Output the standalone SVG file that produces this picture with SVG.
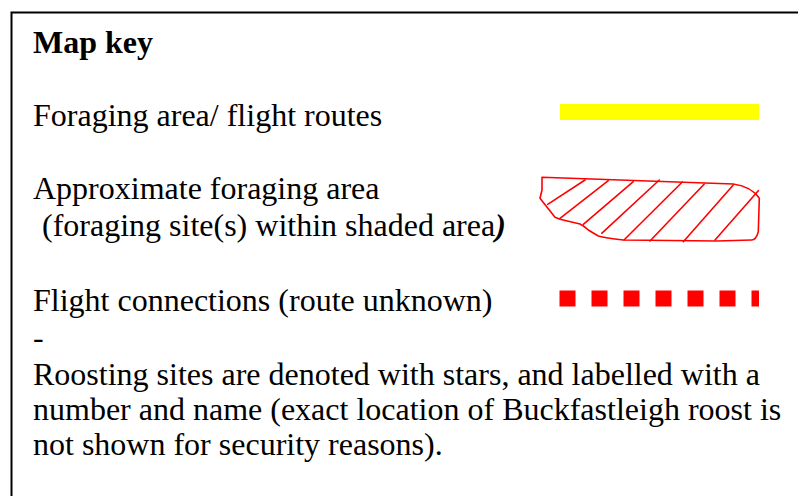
<svg xmlns="http://www.w3.org/2000/svg" width="798" height="496" viewBox="0 0 798 496">
<style>
.t{font-family:"Liberation Serif","Times New Roman",serif;font-size:32px;fill:#000}
.b{font-weight:bold}
.red{fill:none;stroke:#ff0000;stroke-width:1.6;stroke-linecap:round;stroke-linejoin:round}
</style>
<rect width="798" height="496" fill="#fff"/>
<path d="M11.5 496 V12.5 H798" fill="none" stroke="#000" stroke-width="2"/>
<g id="title"><text class="t b" x="33" y="53" font-size="31">Map key</text></g>
<g id="key-foraging-routes">
<text class="t" x="33" y="126">Foraging area/ flight routes</text>
<rect x="560" y="104" width="199" height="16" fill="#ffff00"/>
</g>
<g id="key-approx-area">
<text class="t" x="33" y="199">Approximate foraging area</text>
<text class="t" x="42" y="236">(foraging site(s) within shaded area<tspan class="b" font-style="italic">)</tspan></text>
<path class="red" d="M542 177.3 L733.3 184 Q751.7 186.7 759.3 198.3 L758.3 231.7 Q756 240 751.7 240 L716.7 241 L623.3 240 Q605 238 598.3 236 L588.3 230 Q584 226 580 224 L560 219.3 L555 217.3 L540 198.3 Q541 194 542 190 Z"/>
<path class="red" d="M547.7 204.3 L585 180 M560 218.3 L608.3 180.7 M583.3 224.3 L633.3 181.7 M601.7 233.3 L659.3 180 M624 240 L682.3 182 M650 241 L704.3 184 M683.3 241.7 L733.3 185 M715 240 L758.3 190.7"/>
</g>
<g id="key-flight-connections">
<text class="t" x="33" y="311">Flight connections (route unknown)</text>
<line x1="559.5" y1="298.5" x2="759" y2="298.5" stroke="#ff0000" stroke-width="16" stroke-dasharray="16 16"/>
</g>
<g id="note">
<text class="t" x="33" y="348">-</text>
<text class="t" x="33" y="385">Roosting sites are denoted with stars, and labelled with a</text>
<text class="t" x="33" y="420">number and name (exact location of Buckfastleigh roost is</text>
<text class="t" x="33" y="455">not shown for security reasons).</text>
</g>
</svg>
